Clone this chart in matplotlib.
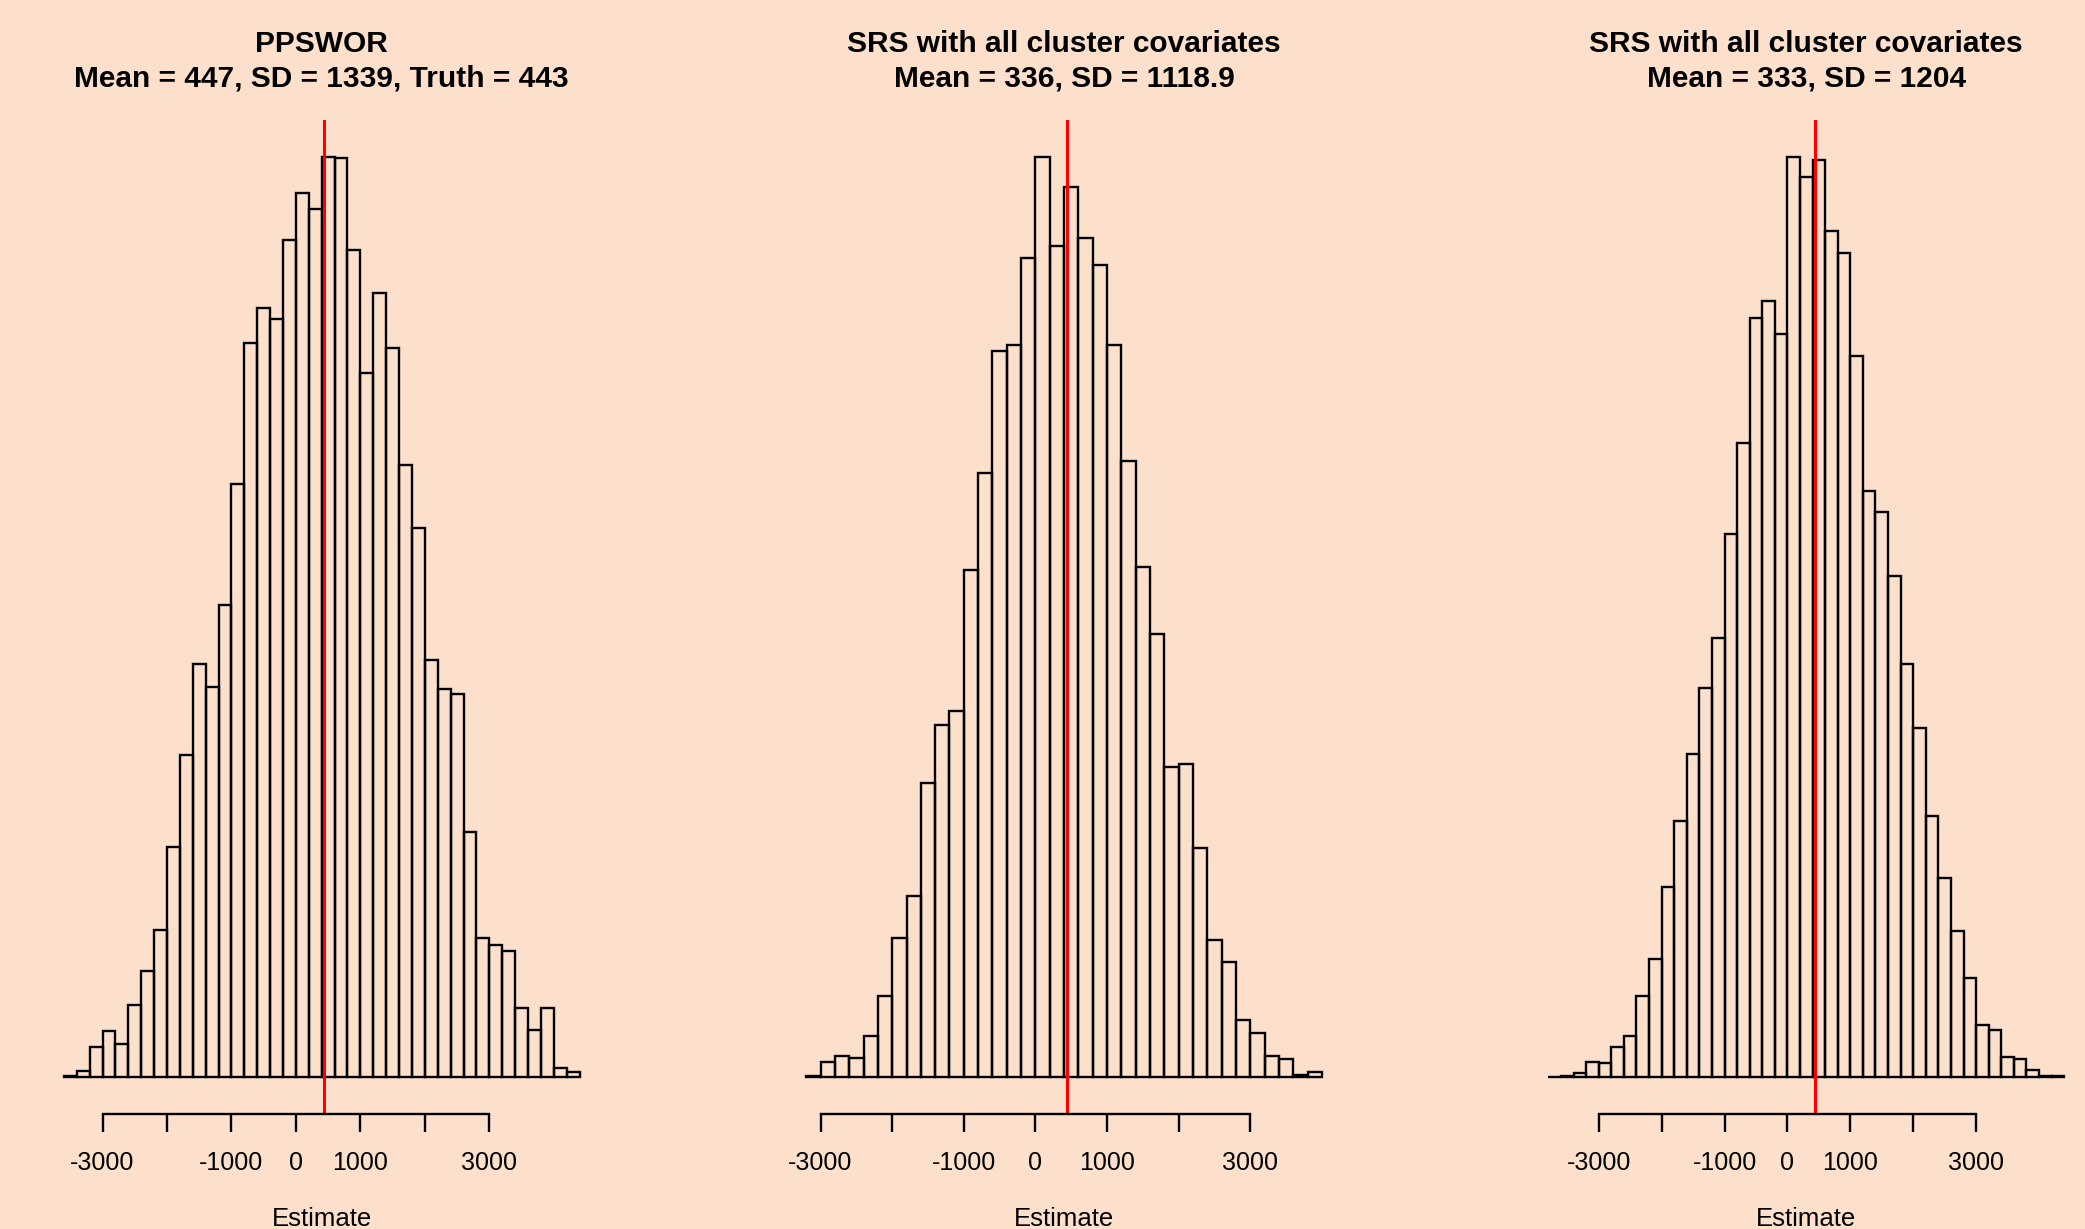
import numpy as np
import matplotlib
matplotlib.use("Agg")
import matplotlib.pyplot as plt

plt.rcParams['font.family'] = ['Liberation Sans', 'DejaVu Sans']

# bin counts (bin width 200)
breaks1 = np.arange(-3600, 4401, 200)
counts1 = [1, 4, 19, 29, 21, 46, 67, 93, 146, 204, 262, 247, 299, 376, 465, 487,
           480, 530, 560, 550, 583, 582, 524, 446, 497, 462, 388, 348, 264, 246,
           243, 155, 88, 84, 80, 44, 30, 44, 6, 3]

breaks2 = np.arange(-3200, 4001, 200)
counts2 = [1, 12, 17, 15, 32, 64, 109, 142, 231, 276, 287, 398, 474, 570, 574,
           643, 722, 652, 698, 658, 637, 574, 483, 400, 348, 243, 246, 180, 108,
           90, 45, 35, 17, 14, 2, 4]

breaks3 = np.arange(-3800, 4401, 200)
counts3 = [0, 1, 3, 11, 10, 22, 30, 59, 86, 138, 186, 235, 283, 319, 395, 461,
           552, 564, 540, 669, 654, 667, 615, 599, 524, 426, 411, 364, 300, 254,
           190, 145, 106, 72, 38, 34, 15, 13, 5, 1, 1]

titles1 = ["PPSWOR", "SRS with all cluster covariates", "SRS with all cluster covariates"]
titles2 = ["Mean = 447, SD = 1339, Truth = 443",
           "Mean = 336, SD = 1118.9",
           "Mean = 333, SD = 1204"]
truth = 443
ticks = [-3000, -2000, -1000, 0, 1000, 2000, 3000]
tick_labels = ["-3000", "", "-1000", "0", "1000", "", "3000"]

bg = "#FCE0CB"
W, H = 2085, 1229
fig = plt.figure(figsize=(W / 100, H / 100), dpi=100, facecolor=bg)

lefts = [43.2, 785.6, 1527.8]
top_px, bot_px = 120, 1114
panels = [(breaks1, counts1), (breaks2, counts2), (breaks3, counts3)]

for i, (br, ct) in enumerate(panels):
    ax = fig.add_axes([lefts[i] / W, (H - bot_px) / H, 557 / W, (bot_px - top_px) / H])
    ax.set_facecolor(bg)
    ax.bar(br[:-1], ct, width=200, align='edge', fill=False,
           edgecolor='black', linewidth=1.7)
    ax.axvline(truth, color='red', linewidth=2.2)
    rng = br[-1] - br[0]
    ax.set_xlim(br[0] - 0.04 * rng, br[-1] + 0.04 * rng)
    m = max(ct)
    ax.set_ylim(-0.04 * m, 1.04 * m)
    for s in ['top', 'left', 'right']:
        ax.spines[s].set_visible(False)
    ax.spines['bottom'].set_bounds(-3000, 3000)
    ax.spines['bottom'].set_linewidth(1.7)
    ax.set_yticks([])
    ax.set_xticks(ticks)
    ax.set_xticklabels(tick_labels)
    ax.tick_params(axis='x', direction='out', length=13, width=1.7,
                   pad=14, labelsize=18)
    cx = (lefts[i] + 557 / 2) / W
    fig.text(cx, (H - 52) / H, titles1[i], ha='center', va='baseline',
             fontsize=21.5, fontweight='bold')
    fig.text(cx, (H - 86.5) / H, titles2[i], ha='center', va='baseline',
             fontsize=21.5, fontweight='bold')
    fig.text(cx, (H - 1226) / H, "Estimate", ha='center', va='baseline',
             fontsize=18.5)

fig.savefig("out.png", dpi=100, facecolor=bg)
